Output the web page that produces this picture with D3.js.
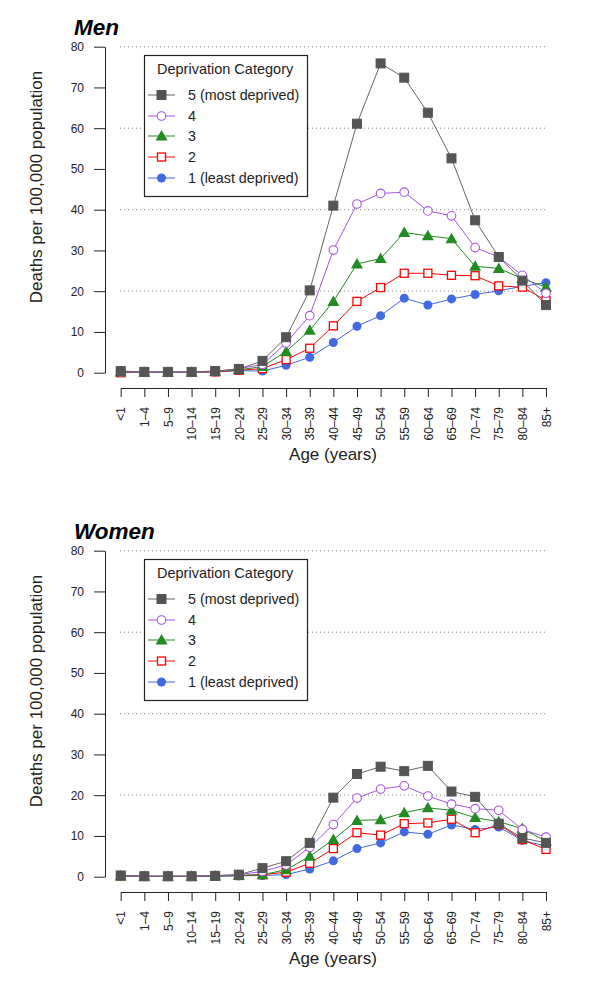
<!DOCTYPE html>
<html><head><meta charset="utf-8">
<script src="https://cdn.jsdelivr.net/npm/d3@7/dist/d3.min.js"></script>
<style>body{margin:0;background:#fff}svg{display:block}text{font-family:"Liberation Sans",Arial,sans-serif}</style>
</head><body>
<script>
const ageGroups = ["<1","1\u20134","5\u20139","10\u201314","15\u201319","20\u201324","25\u201329","30\u201334","35\u201339","40\u201344","45\u201349","50\u201354","55\u201359","60\u201364","65\u201369","70\u201374","75\u201379","80\u201384","85+"];
const yTicks = [0,10,20,30,40,50,60,70,80];
const gridTicks = [20,40,60,80];
const seriesNames = ["5 (most deprived)","4","3","2","1 (least deprived)"];

// Men
const men5 = [0.4,0.2,0.2,0.2,0.4,0.9,2.9,8.7,20.2,41.0,61.1,75.9,72.4,63.8,52.6,37.4,28.4,22.6,16.6];
const men4 = [0.2,0.1,0.1,0.1,0.3,1.0,2.0,7.3,14.0,30.1,41.4,44.0,44.3,39.7,38.5,30.7,28.4,23.9,19.5];
const men3 = [0.2,0.1,0.1,0.1,0.3,0.7,1.5,5.2,10.4,17.5,26.7,28.0,34.4,33.6,32.9,26.1,25.6,23.1,21.0];
const men2 = [0.0,0.1,0.1,0.1,0.2,0.6,1.0,3.2,6.0,11.5,17.5,20.9,24.4,24.4,23.9,23.8,21.3,21.0,17.7];
const men1 = [0.1,0.1,0.1,0.1,0.2,0.5,0.4,1.8,3.8,7.4,11.4,14.0,18.3,16.6,18.1,19.2,20.1,21.2,22.1];

// Women
const women5 = [0.3,0.1,0.1,0.1,0.2,0.5,2.1,3.8,8.3,19.4,25.2,27.0,25.9,27.2,20.9,19.6,13.0,9.5,8.3];
const women4 = [0.3,0.1,0.1,0.1,0.3,0.5,1.3,2.9,7.2,12.8,19.3,21.5,22.3,19.8,17.8,16.7,16.3,11.6,9.7];
const women3 = [0.2,0.1,0.1,0.1,0.2,0.3,0.5,1.7,5.0,9.1,13.8,14.0,15.7,16.9,16.3,14.5,13.5,11.8,8.7];
const women2 = [0.2,0.1,0.1,0.1,0.2,0.3,0.5,1.1,3.3,6.9,10.8,10.2,13.0,13.2,14.1,10.8,12.8,9.1,6.7];
const women1 = [0.1,0.1,0.1,0.1,0.1,0.2,0.3,0.5,1.9,3.9,6.9,8.3,11.0,10.4,12.7,11.6,12.2,8.9,7.5];

const styles = [
  {color:"#555555", line:"#666666", fill:"#555555", shape:"square"},
  {color:"#a855e0", line:"#a855e0", fill:"#ffffff", shape:"circle"},
  {color:"#228B22", line:"#228B22", fill:"#228B22", shape:"triangle"},
  {color:"#ff0000", line:"#ff0000", fill:"#ffffff", shape:"square"},
  {color:"#4169E1", line:"#4169E1", fill:"#4169E1", shape:"circleFill"}
];

const W = 600, H = 994;
const svg = d3.select("body").append("svg").attr("width", W).attr("height", H);

function marker(g, st, x, y) {
  if (st.shape === "square") {
    const s = st.fill === "#ffffff" ? 8 : 9;
    g.append("rect").attr("x", x - s/2).attr("y", y - s/2).attr("width", s).attr("height", s)
      .attr("fill", st.fill).attr("stroke", st.color).attr("stroke-width", st.fill === "#ffffff" ? 1.3 : 1);
  } else if (st.shape === "circle") {
    g.append("circle").attr("cx", x).attr("cy", y).attr("r", 4.3)
      .attr("fill", "#fff").attr("stroke", st.color).attr("stroke-width", 1.1);
  } else if (st.shape === "circleFill") {
    g.append("circle").attr("cx", x).attr("cy", y).attr("r", 4.5)
      .attr("fill", st.fill).attr("stroke", "none");
  } else {
    const s = 6;
    g.append("path").attr("d", `M${x},${y - s}L${x + s},${y + s*0.75}L${x - s},${y + s*0.75}Z`)
      .attr("fill", st.fill).attr("stroke", "none");
  }
}

function panel(offY, title, seriesData) {
  const g = svg.append("g").attr("transform", `translate(0,${offY})`);
  const x = d3.scalePoint().domain(ageGroups).range([120.7, 546]);
  const y = d3.scaleLinear().domain([0, 80]).range([372.7, 46.7]);

  g.append("text").attr("x", 74).attr("y", 35).attr("font-size", 22.5)
    .attr("font-weight", "bold").attr("font-style", "italic").attr("fill", "#000").text(title);

  // grid
  g.selectAll("line.grid").data(gridTicks).join("line")
    .attr("x1", 120).attr("x2", 546).attr("y1", d => y(d)).attr("y2", d => y(d))
    .attr("stroke", "#888").attr("stroke-width", 1).attr("stroke-dasharray", "1,3");

  // y axis
  const ya = g.append("g").attr("transform", "translate(105,0)")
    .call(d3.axisLeft(y).tickValues(yTicks).tickSize(11).tickSizeOuter(0).tickPadding(10));
  ya.select(".domain").attr("stroke", "#222");
  ya.selectAll(".tick line").attr("stroke", "#222");
  ya.selectAll("text").attr("font-size", 12).attr("fill", "#222").attr("font-family", "Liberation Sans, Arial, sans-serif");

  // x axis
  const xa = g.append("g").attr("transform", "translate(0,388)")
    .call(d3.axisBottom(x).tickSize(9).tickSizeOuter(0));
  xa.select(".domain").attr("stroke", "#222");
  xa.selectAll(".tick line").attr("stroke", "#222");
  xa.selectAll("text").attr("font-size", 12).attr("fill", "#222")
    .attr("font-family", "Liberation Sans, Arial, sans-serif")
    .attr("transform", "rotate(-90)").attr("text-anchor", "end")
    .attr("x", -19).attr("y", 0).attr("dy", "0.35em");

  g.append("text").attr("x", 333).attr("y", 460).attr("text-anchor", "middle")
    .attr("font-size", 17).attr("fill", "#222").text("Age (years)");

  g.append("text").attr("transform", `translate(42,187) rotate(-90)`).attr("text-anchor", "middle")
    .attr("font-size", 17).attr("fill", "#222").text("Deaths per 100,000 population");

  // series: draw least deprived first so most deprived is on top
  const line = d3.line().x((d, i) => x(ageGroups[i])).y(d => y(d));
  for (let k = seriesData.length - 1; k >= 0; k--) {
    const st = styles[k];
    const sg = g.append("g");
    sg.append("path").attr("d", line(seriesData[k])).attr("fill", "none")
      .attr("stroke", st.line).attr("stroke-width", 1);
    seriesData[k].forEach((v, i) => marker(sg, st, x(ageGroups[i]), y(v)));
  }

  // legend
  const lg = g.append("g");
  lg.append("rect").attr("x", 144.5).attr("y", 55.5).attr("width", 163).attr("height", 141)
    .attr("fill", "#fff").attr("stroke", "#222").attr("stroke-width", 1.2);
  lg.append("text").attr("x", 157).attr("y", 74).attr("font-size", 14.5).attr("fill", "#222").text("Deprivation Category");
  const ly = [95, 116, 136, 157, 178];
  seriesNames.forEach((n, k) => {
    const st = styles[k];
    lg.append("line").attr("x1", 148).attr("x2", 175).attr("y1", ly[k]).attr("y2", ly[k])
      .attr("stroke", st.line).attr("stroke-width", 1);
    marker(lg, st, 161.5, ly[k]);
    lg.append("text").attr("x", 188).attr("y", ly[k]).attr("dy", "0.36em").attr("font-size", 14.3)
      .attr("fill", "#222").text(n);
  });
}

panel(0, "Men", [men5, men4, men3, men2, men1]);
panel(504, "Women", [women5, women4, women3, women2, women1]);
</script>
</body></html>
